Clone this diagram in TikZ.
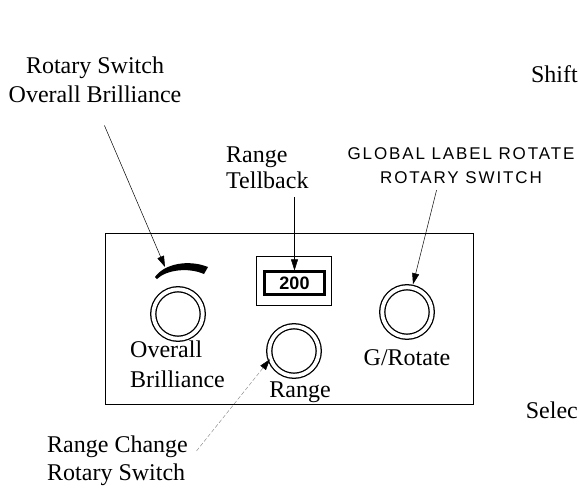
\documentclass[tikz,border=0pt]{standalone}
\usepackage{fontspec}
\setmainfont{Liberation Serif}
\newfontfamily\capsfont[LetterSpace=11]{Liberation Sans}
\newfontfamily\digitfont{Liberation Sans}
\usepackage{tikz}
\usetikzlibrary{arrows.meta, positioning, calc}

\begin{document}
\begin{tikzpicture}[
  x=1pt, y=-1pt,
  panel/.style={draw, line width=0.8pt, minimum width=368pt, minimum height=171pt, inner sep=0pt},
  knob/.style={circle, draw, double, line width=1.3pt, double distance=3.8pt, minimum size=49.5pt, inner sep=0pt},
  lbl/.style={font=\fontsize{24}{28}\selectfont, inner sep=1pt},
  caps/.style={font=\capsfont\fontsize{17}{24}\selectfont, inner sep=1pt},
  lead/.style={-{Triangle[length=11pt, width=7pt]}, line width=0.5pt},
  faint/.style={-{Triangle[length=11pt, width=7pt, black]}, line width=0.4pt, gray, dash pattern=on 4pt off 2pt}
]
  \clip (0,0) rectangle (579,491);

  % Panel
  \node[panel] (panel) at (289,318.5) {};

  % Knobs
  \node[knob] (obknob) at (178,314) {};
  \node[knob] (rknob) at (294,351) {};
  \node[knob] (gknob) at (407,312) {};

  % Brilliance arc
  \fill (155,277) .. controls (164,264) and (188,259) .. (208,267) -- (204,274) .. controls (188,267) and (166,270) .. (157,279) -- cycle;
  \coordinate (obtip) at (165,267);

  % Tellback display
  \node[draw, line width=0.6pt, minimum width=75pt, minimum height=49pt] (disp) at (293.5,280.5) {};
  \node[draw, line width=2.2pt, minimum width=60pt, minimum height=23pt, inner sep=0pt, font=\digitfont\bfseries\fontsize{18}{18}\selectfont] (dispin) at (294.5,283) {200};

  % Panel labels (base = last line)
  \node[lbl, font=\fontsize{24}{30}\selectfont, align=left, anchor=base west] (oblbl) at (129,387) {Overall\\Brilliance};
  \node[lbl, anchor=base] (rlbl) at (300,397) {Range};
  \node[lbl, anchor=base] (glbl) at (407,365) {G/Rotate};

  % Callouts
  \node[lbl, font=\fontsize{24}{29}\selectfont, align=center, anchor=base] (obcall) at (95,102) {Rotary Switch\\Overall Brilliance};
  \node[lbl, font=\fontsize{24}{26}\selectfont, align=left, anchor=base west] (tbcall) at (225,188) {Range\\Tellback};
  \node[caps, align=center, anchor=base] (gcall) at (461,183) {GLOBAL LABEL ROTATE\\ROTARY SWITCH};
  \node[lbl, align=left, anchor=base west] (rccall) at (46,480) {Range Change\\Rotary Switch};
  \node[lbl, anchor=base east] (shift) at (579,82) {Shift};
  \node[lbl, anchor=base east] (selec) at (579,418) {Selec};

  % Leaders
  \draw[lead, shorten <=24pt] (obcall.south) -- (obtip);
  \draw[lead, shorten <=8pt] (tbcall.south -| dispin.north) -- (dispin.north);
  \draw[lead, shorten <=6pt, shorten >=3pt] ([xshift=-23pt]gcall.south) -- (gknob.78);
  \draw[faint, shorten <=12pt] (rccall.east) -- (rknob.199);

\end{tikzpicture}
\end{document}
